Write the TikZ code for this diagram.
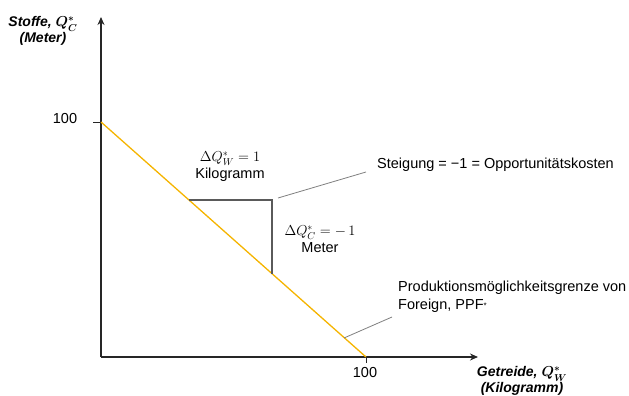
\documentclass[tikz,border=0pt]{standalone}
\usepackage{amsmath}
\usepackage{fontspec}
\setmainfont{Liberation Sans}
\usetikzlibrary{arrows.meta}
\definecolor{ppf}{HTML}{F5B400}
\definecolor{tri}{HTML}{5A5A5A}
\definecolor{lead}{HTML}{7F7F7F}
\definecolor{axc}{HTML}{262626}
\begin{document}
\begin{tikzpicture}[x=1pt,y=-1pt,
  axis/.style={axc,line width=1.4pt,-{Stealth[length=8pt,width=7pt]}},
  lbl/.style={font=\fontsize{14.5}{17}\selectfont,inner sep=0pt,align=center},
  axlbl/.style={font=\fontsize{14}{16}\selectfont\bfseries\itshape,inner sep=0pt,align=center},
  leader/.style={lead,line width=0.8pt}]
\useasboundingbox (0,0) rectangle (629,396);
\coordinate (O) at (101,357);
\coordinate (ytop) at (101,17);
\coordinate (xend) at (478,357);
\draw[axis] (O) -- (ytop);
\draw[axis] (O) -- (xend);
\coordinate (ya) at (93,122);
\coordinate (yb) at (101,122);
\coordinate (xa) at (366,357);
\coordinate (xb) at (366,363);
\draw[axc,line width=1pt] (ya) -- (yb);
\draw[axc,line width=1pt] (xa) -- (xb);
\node[lbl] (y100) at (65,119) {100};
\node[lbl] (x100) at (365,373) {100};
\node[axlbl] (ylab) at (43,31) {Stoffe, $\boldsymbol{Q^{*}_{C}}$\\(Meter)};
\node[axlbl] (xlab) at (522,381) {Getreide, $\boldsymbol{Q^{*}_{W}}$\\(Kilogramm)};
% PPF
\coordinate (p1) at (101,122);
\coordinate (p2) at (366,357);
\draw[ppf,line width=1.3pt] (p1) -- (p2);
% triangle
\coordinate (t1) at (189,200);
\coordinate (t2) at (272,200);
\coordinate (t3) at (272,274);
\draw[tri,line width=1.4pt] (t1) -- (t2) -- (t3);
\node[lbl] (dw) at (230,167) {$\Delta Q^{*}_{W}=1$\\Kilogramm};
\node[lbl] (dc) at (320,239) {$\Delta Q^{*}_{C}=-\,1$\\Meter};
% Steigung
\node[lbl,anchor=west] (st) at (377,165) {Steigung = −1 = Opportunitätskosten};
\coordinate (s1) at (278,198);
\coordinate (s2) at (366,172);
\draw[leader] (s1) -- (s2);
% PPF label
\node[lbl,anchor=west,align=left] (pl) at (398,297) {Produktionsmöglichkeitsgrenze von\\[1pt]Foreign, PPF\raisebox{1pt}{\footnotesize *}};
\coordinate (l1) at (392,317);
\coordinate (l2) at (344,338);
\draw[leader] (l1) -- (l2);
\end{tikzpicture}
\end{document}
